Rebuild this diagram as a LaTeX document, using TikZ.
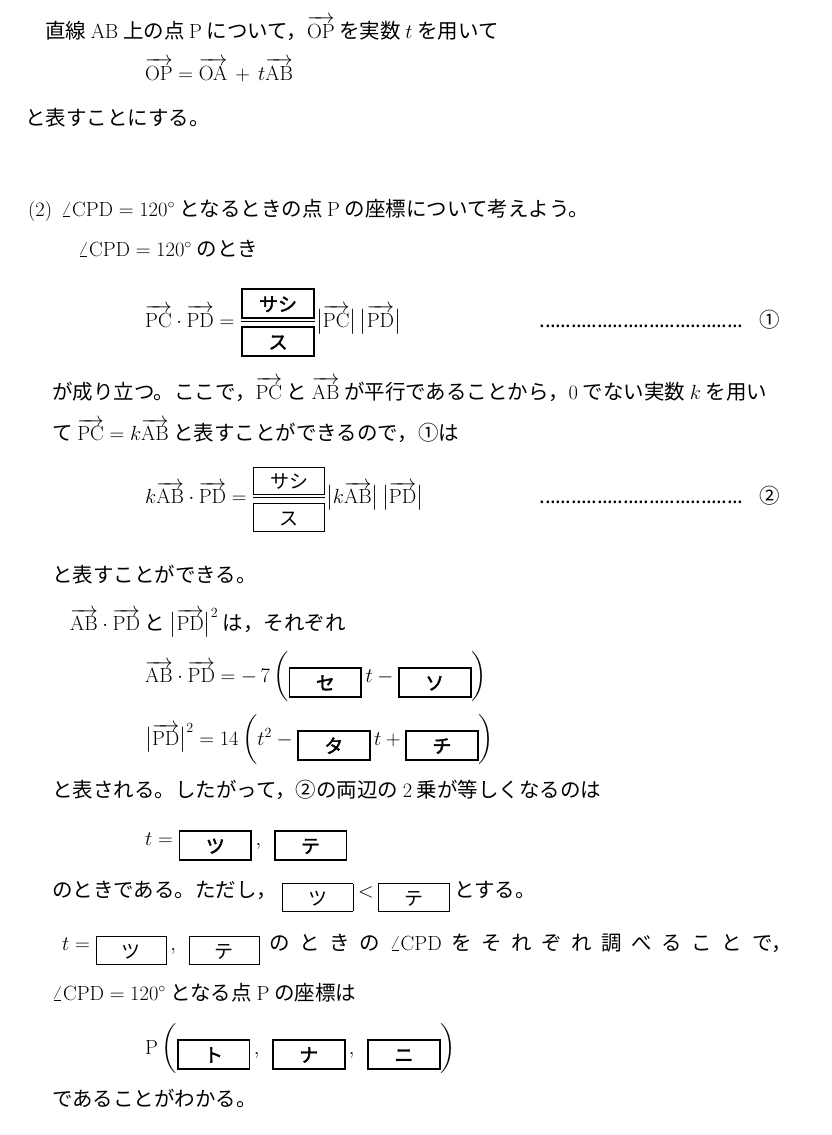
\RequirePackage{fix-cm}
\documentclass[tikz,border=0pt]{standalone}
\usepackage{amsmath}
\usepackage[no-math]{fontspec}
\setmainfont{Noto Sans CJK JP}
\newfontfamily\cjkb[FakeBold=2]{Noto Sans CJK JP}
\DeclareMathSizes{20.5}{20.5}{14}{10}
\newcommand\V[1]{\overrightarrow{\mathrm{#1}}}
\newcommand\BB[2]{\raisebox{-8pt}{\fboxrule=1.8pt\fboxsep=0pt\fbox{\makebox[#1]{\rule[-6pt]{0pt}{27pt}\fontsize{19}{20}\cjkb #2}}}}
\newcommand\TB[2]{\raisebox{-8pt}{\fboxrule=0.7pt\fboxsep=0pt\fbox{\makebox[#1]{\rule[-6pt]{0pt}{27pt}\fontsize{19}{20}\selectfont #2}}}}
\tikzset{tl/.style={anchor=base west,inner sep=0pt,font=\fontsize{20.5}{24}\selectfont}}
\begin{document}
\begin{tikzpicture}[x=1pt,y=-1pt]
\useasboundingbox (0,0) rectangle (831,1135);
\node[tl] (l1) at (45,38) {直線 $\mathrm{AB}$ 上の点 $\mathrm{P}$ について，$\V{OP}$ を実数 $t$ を用いて};
\node[tl] (l2) at (145,80) {$\V{OP}=\V{OA}\,+\,t\V{AB}$};
\node[tl] (l3) at (25,125) {と表すことにする。};
\node[tl] (l4) at (28,216) {$(2)$\ \ $\angle\mathrm{CPD}=120^\circ$ となるときの点 $\mathrm{P}$ の座標について考えよう。};
\node[tl] (l5) at (78,256) {$\angle\mathrm{CPD}=120^\circ$ のとき};
\node[tl] (l6) at (145,327) {$\V{PC}\cdot\V{PD}=\dfrac{\BB{70pt}{サシ}}{\BB{70pt}{ス}}\big|\V{PC}\big|\,\big|\V{PD}\big|$};
\node[tl] (d1) at (540,327) {\makebox[205pt]{\leaders\hbox to 5.2pt{\hss.\hss}\hfill}\hspace{14pt}①};
\node[tl] (l7) at (52,399) {が成り立つ。ここで，$\V{PC}$ と $\V{AB}$ が平行であることから，$0$ でない実数 $k$ を用い};
\node[tl] (l8) at (52,440) {て $\V{PC}=k\V{AB}$ と表すことができるので，①は};
\node[tl] (l9) at (145,503) {$k\V{AB}\cdot\V{PD}=\dfrac{\TB{70pt}{サシ}}{\TB{70pt}{ス}}\big|k\V{AB}\big|\,\big|\V{PD}\big|$};
\node[tl] (d2) at (540,503) {\makebox[205pt]{\leaders\hbox to 5.2pt{\hss.\hss}\hfill}\hspace{14pt}②};
\node[tl] (l10) at (52,582) {と表すことができる。};
\node[tl] (l11) at (70,630) {$\V{AB}\cdot\V{PD}$ と $\big|\V{PD}\big|^2$ は，それぞれ};
\node[tl] (l12) at (145,682) {$\V{AB}\cdot\V{PD}=-\,7\left(\BB{70pt}{セ}\,t-\BB{70pt}{ソ}\right)$};
\node[tl] (l13) at (145,745) {$\big|\V{PD}\big|^2=14\left(t^2-\BB{70pt}{タ}\,t+\BB{70pt}{チ}\right)$};
\node[tl] (l14) at (52,797) {と表される。したがって，②の両辺の $2$ 乗が等しくなるのは};
\node[tl] (l15) at (145,845) {$t=\BB{70pt}{ツ}\,,\ \ \BB{70pt}{テ}$};
\node[tl] (l16) at (52,897) {のときである。ただし，\ \TB{70pt}{ツ}\ $<$\ \TB{70pt}{テ}\ とする。};
\node[tl] (l17) at (62,950) {\makebox[730pt][s]{$t=\TB{70pt}{ツ}\,,\ \ \TB{70pt}{テ}$\hfill の\hfill と\hfill き\hfill の\hfill $\angle\mathrm{CPD}$\hfill を\hfill そ\hfill れ\hfill ぞ\hfill れ\hfill 調\hfill べ\hfill る\hfill こ\hfill と\hfill で，}};
\node[tl] (l18) at (52,1000) {$\angle\mathrm{CPD}=120^\circ$ となる点 $\mathrm{P}$ の座標は};
\node[tl] (l19) at (145,1054) {$\mathrm{P}\left(\BB{70pt}{ト}\,,\ \ \BB{70pt}{ナ}\,,\ \ \BB{70pt}{ニ}\right)$};
\node[tl] (l20) at (52,1106) {であることがわかる。};
\end{tikzpicture}
\end{document}
